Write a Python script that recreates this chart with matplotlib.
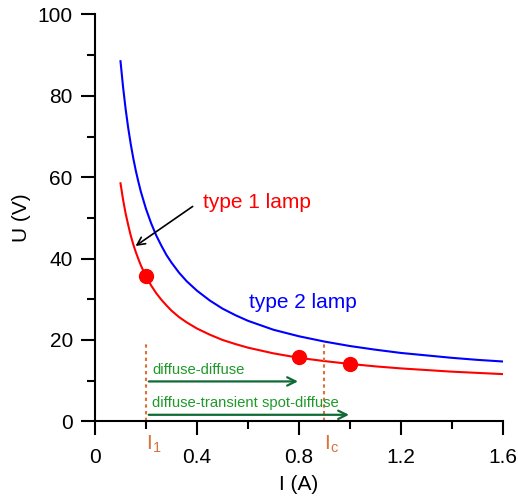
import matplotlib
matplotlib.use('Agg')
import matplotlib.pyplot as plt

plt.rcParams['font.family'] = ['Liberation Sans', 'DejaVu Sans']
plt.rcParams['mathtext.fontset'] = 'custom'
plt.rcParams['mathtext.rm'] = 'Liberation Sans'

# values
I_vals = [0.10, 0.11, 0.12, 0.13, 0.14, 0.15, 0.16, 0.17, 0.18, 0.20, 0.22, 0.24,
          0.26, 0.28, 0.30, 0.33, 0.36, 0.40, 0.45, 0.50, 0.55, 0.60, 0.70, 0.80,
          0.90, 1.00, 1.10, 1.20, 1.30, 1.40, 1.50, 1.60]
U_type1 = [58.5, 54.5, 51.1, 48.3, 45.7, 43.5, 41.6, 39.9, 38.3, 35.6, 33.4, 31.5,
           29.9, 28.5, 27.2, 25.6, 24.3, 22.8, 21.3, 20.0, 19.0, 18.1, 16.7, 15.6,
           14.8, 14.1, 13.5, 13.0, 12.6, 12.2, 11.9, 11.6]
U_type2 = [88.5, 82.2, 76.8, 72.2, 68.2, 64.7, 61.6, 58.9, 56.4, 52.2, 48.7, 45.7,
           43.2, 40.9, 39.0, 36.5, 34.4, 32.1, 29.7, 27.7, 26.1, 24.7, 22.5, 20.9,
           19.6, 18.5, 17.6, 16.8, 16.2, 15.6, 15.1, 14.7]

I_dots = [0.2, 0.8, 1.0]
U_dots = [35.6, 15.7, 14.1]

I_1 = 0.2
I_c = 0.9

fig = plt.figure(figsize=(5.18, 4.98), dpi=100)
ax = fig.add_axes([0.1834, 0.154, 0.7876, 0.817])

ax.plot(I_vals, U_type2, color='#0000ff', lw=1.5)
ax.plot(I_vals, U_type1, color='#ff0000', lw=1.5)
ax.plot(I_dots, U_dots, 'o', color='#ff0000', ms=10)

orange = '#d9733a'
for xv in (I_1, I_c):
    ax.plot([xv, xv], [0, 19.3], color=orange, lw=1.5, ls=(0, (1.6, 1.6)), clip_on=False)
ax.text(I_1, -3, r'$\mathrm{I}_1$', color=orange, fontsize=15, ha='left', va='top')
ax.text(I_c, -3, r'$\mathrm{I}_\mathrm{c}$', color=orange, fontsize=15, ha='left', va='top')

dgreen = '#0f6b35'
tgreen = '#1f9a2a'
ax.annotate('', xy=(0.807, 9.8), xytext=(I_1, 9.8),
            arrowprops=dict(arrowstyle='->', color=dgreen, lw=1.6, mutation_scale=15))
ax.annotate('', xy=(1.007, 1.6), xytext=(I_1, 1.6),
            arrowprops=dict(arrowstyle='->', color=dgreen, lw=1.6, mutation_scale=15))
ax.text(0.224, 12.5, 'diffuse-diffuse', color=tgreen, fontsize=10.7, va='center')
ax.text(0.224, 4.5, 'diffuse-transient spot-diffuse', color=tgreen, fontsize=10.7, va='center')

ax.annotate('', xy=(0.15, 42.7), xytext=(0.392, 53.2),
            arrowprops=dict(arrowstyle='->', color='black', lw=1.2, mutation_scale=14))
ax.text(0.422, 53.9, 'type 1 lamp', color='#ff0000', fontsize=15, va='center')
ax.text(0.605, 29.3, 'type 2 lamp', color='#0000ff', fontsize=15, va='center')

ax.set_xlim(0, 1.6)
ax.set_ylim(0, 100)
ax.set_xticks([0, 0.4, 0.8, 1.2, 1.6])
ax.set_xticklabels(['0', '0.4', '0.8', '1.2', '1.6'])
ax.set_xticks([0.2, 0.6, 1.0, 1.4], minor=True)
ax.set_yticks([0, 20, 40, 60, 80, 100])
ax.set_yticks([10, 30, 50, 70, 90], minor=True)
ax.tick_params(which='major', direction='out', length=10, width=1.5, labelsize=15)
ax.tick_params(axis='x', which='major', pad=9)
ax.tick_params(axis='y', which='major', pad=6)
ax.tick_params(which='minor', direction='out', length=5.5, width=1.5)
ax.spines['top'].set_visible(False)
ax.spines['right'].set_visible(False)
ax.spines['left'].set_linewidth(1.5)
ax.spines['bottom'].set_linewidth(1.5)
ax.set_xlabel('I (A)', fontsize=15, labelpad=6)
ax.set_ylabel('U (V)', fontsize=15, labelpad=5)

fig.savefig('out.png', dpi=100)
